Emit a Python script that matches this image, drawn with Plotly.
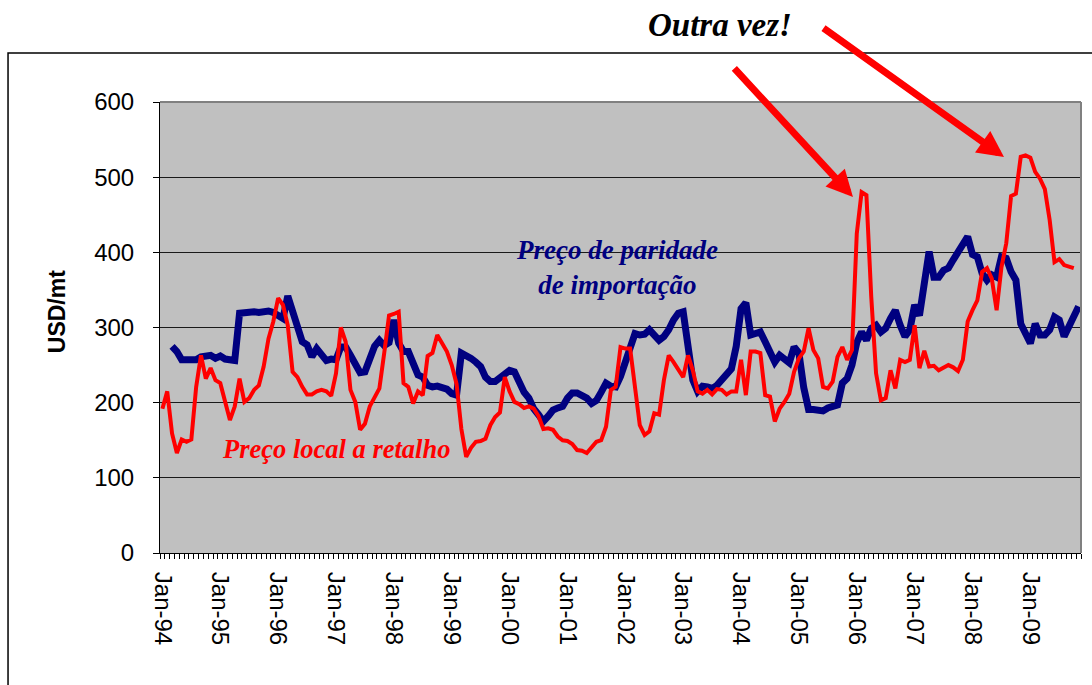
import plotly.graph_objects as go

MONTHS = ["Jan", "Feb", "Mar", "Apr", "May", "Jun", "Jul", "Aug", "Sep", "Oct", "Nov", "Dec"]
YEARS = list(range(1994, 2010))
categories = [f"{m}-{y % 100:02d}" for y in YEARS for m in MONTHS][:191]
tick_labels = [c if c.startswith("Jan") else "" for c in categories]

# Preço de paridade de importação (USD/mt), monthly from Jan-94
import_parity = [
    None, None, 275, 268, 257, 257, 257, 257, 261, 262, 263, 259,
    262, 258, 256, 256, 319, 320, 322, 321, 320, 322, 322, 320,
    316, 312, 342, 323, 299, 281, 277, 261, 272, 263, 256, 258,
    257, 274, 274, 263, 250, 240, 241, 257, 275, 283, 276, 280,
    310, 279, 268, 268, 250, 237, 234, 223, 221, 222, 220, 218,
    212, 210, 266, 263, 259, 254, 248, 234, 228, 228, 234, 240,
    243, 241, 226, 214, 206, 192, 184, 175, 182, 190, 193, 195,
    206, 213, 213, 210, 206, 199, 203, 214, 226, 222, 221, 235,
    252, 274, 292, 290, 291, 297, 291, 283, 288, 297, 310, 319,
    321, 280, 230, 215, 222, 221, 219, 223, 230, 237, 245, 275,
    325, 333, 290, 292, 294, 281, 268, 254, 263, 259, 253, 274,
    266, 220, 191, 191, 189, 189, 193, 196, 197, 226, 232, 250,
    280, 294, 283, 299, 303, 294, 299, 312, 323, 303, 288, 297,
    330, 316, 352, 401, 367, 367, 376, 379, 390, 399, 412, 421,
    397, 394, 372, 363, 370, 367, 394, 392, 374, 363, 305, 292,
    279, 305, 290, 290, 297, 314, 310, 288, 300, 312, 328,
]

# Preço local a retalho (USD/mt), monthly from Jan-94
local_retail = [
    192, 215, 159, 133, 151, 148, 151, 221, 263, 232, 246, 230,
    226, 203, 177, 195, 232, 201, 206, 217, 223, 248, 285, 308,
    339, 330, 303, 241, 234, 221, 211, 211, 215, 217, 215, 209,
    239, 300, 281, 217, 201, 164, 172, 195, 208, 219, 266, 316,
    318, 321, 226, 221, 199, 215, 210, 262, 266, 290, 279, 268,
    250, 225, 165, 128, 140, 148, 149, 152, 170, 181, 187, 234,
    215, 201, 198, 193, 195, 192, 182, 165, 166, 164, 155, 150,
    149, 145, 137, 136, 133, 140, 148, 150, 168, 217, 221, 274,
    272, 272, 217, 170, 157, 162, 186, 184, 230, 263, 254, 243,
    234, 263, 243, 215, 212, 217, 211, 218, 217, 211, 215, 215,
    257, 210, 268, 268, 266, 210, 208, 175, 192, 201, 212, 241,
    259, 268, 299, 270, 259, 221, 219, 228, 261, 274, 257, 270,
    425, 480, 476, 341, 239, 203, 206, 243, 219, 257, 254, 257,
    303, 246, 269, 248, 249, 243, 246, 250, 247, 242, 257, 308,
    323, 336, 374, 379, 365, 323, 380, 412, 475, 478, 527, 529,
    526, 507, 498, 484, 443, 387, 391, 383, 381, 379,
]

NAVY = "#000080"
RED = "#FF0000"
SANS = "Liberation Sans, Arial, sans-serif"
SERIF = "Liberation Serif, Times New Roman, serif"

fig = go.Figure()
fig.add_trace(go.Scatter(
    x=categories[:len(import_parity)], y=import_parity, mode="lines",
    line=dict(color=NAVY, width=7), connectgaps=False, showlegend=False,
    name="Preço de paridade de importação"))
fig.add_trace(go.Scatter(
    x=categories[:len(local_retail)], y=local_retail, mode="lines",
    line=dict(color=RED, width=4), showlegend=False,
    name="Preço local a retalho"))

fig.update_layout(
    width=1092, height=685,
    margin=dict(l=160, r=11, t=102, b=132, autoexpand=False),
    paper_bgcolor="white", plot_bgcolor="#C0C0C0",
    font=dict(family=SANS, color="black"),
    showlegend=False,
)

fig.update_xaxes(
    type="category", categoryorder="array", categoryarray=categories,
    range=[-0.5, len(categories) - 0.5], automargin=False,
    tickmode="array", tickvals=categories, ticktext=tick_labels,
    tickson="boundaries", ticks="outside", ticklen=5, tickcolor="black", tickwidth=1,
    tickangle=90, tickfont=dict(family=SANS, size=24, color="black"),
    ticklabelstandoff=13,
    showline=True, linecolor="black", linewidth=1,
    showgrid=False, zeroline=False,
)
fig.update_yaxes(
    range=[0, 600], tickmode="linear", tick0=0, dtick=100, automargin=False,
    ticks="outside", ticklen=6, tickcolor="black",
    tickfont=dict(family=SANS, size=24, color="black"),
    ticklabelstandoff=14,
    showline=True, linecolor="black", linewidth=1,
    showgrid=True, gridcolor="#1a1a1a", gridwidth=1, zeroline=False,
)

# plot-area top/right border and outer chart border
fig.add_shape(type="line", xref="paper", yref="paper", x0=0, x1=1, y0=1, y1=1,
              line=dict(color="#808080", width=2))
fig.add_shape(type="line", xref="paper", yref="paper", x0=1, x1=1, y0=0, y1=1,
              line=dict(color="#808080", width=2))
fig.add_shape(type="rect", xref="paper", yref="paper", x0=-0.165, x1=1.05, y0=-0.35, y1=1.1086,
              line=dict(color="black", width=1.5), fillcolor="rgba(0,0,0,0)")

fig.add_annotation(xref="paper", yref="paper", x=-0.1118, y=0.534, text="<b>USD/mt</b>",
                   xanchor="center", yanchor="middle",
                   textangle=-90, showarrow=False, font=dict(family=SANS, size=23, color="black"))

fig.add_annotation(xref="paper", yref="paper", x=0.4962, y=0.634,
                   xanchor="center", yanchor="middle",
                   text="<b><i>Preço de paridade<br>de importação</i></b>", showarrow=False,
                   align="center", font=dict(family=SERIF, size=27, color=NAVY))
fig.add_annotation(xref="paper", yref="paper", x=0.1911, y=0.2306,
                   xanchor="center", yanchor="middle",
                   text="<b><i>Preço local a retalho</i></b>", showarrow=False,
                   font=dict(family=SERIF, size=26.5, color=RED))
fig.add_annotation(xref="paper", yref="paper", x=0.608, y=1.1707,
                   xanchor="center", yanchor="middle",
                   text="<b><i>Outra vez!</i></b>", showarrow=False,
                   font=dict(family=SERIF, size=33, color="black"))

# red arrows
fig.add_annotation(xref="paper", yref="paper", x=0.7524, y=0.7894, ax=-120, ay=-130,
                   text="", showarrow=True, arrowhead=2, arrowsize=0.75, arrowwidth=7,
                   arrowcolor=RED)
fig.add_annotation(xref="paper", yref="paper", x=0.9164, y=0.878, ax=-182, ay=-130,
                   text="", showarrow=True, arrowhead=2, arrowsize=0.75, arrowwidth=7,
                   arrowcolor=RED)

fig.write_html("out.html", config={"displayModeBar": False},
               post_script="document.body.style.margin='0';document.body.style.overflow='hidden';")
